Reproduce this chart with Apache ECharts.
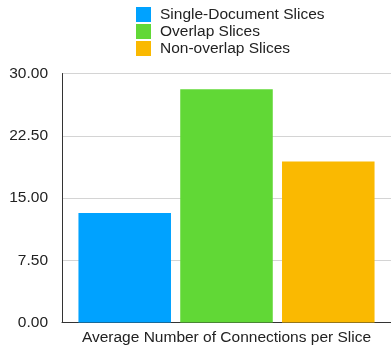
<!DOCTYPE html>
<html>
<head>
<meta charset="utf-8">
<script src="https://cdn.jsdelivr.net/npm/echarts@6/dist/echarts.min.js"></script>
<style>
  html, body { margin: 0; padding: 0; background: #fff; }
  #chart { width: 391px; height: 350px; }
</style>
</head>
<body>
<div id="chart"></div>
<script>
// data
var categories = ["Average Number of Connections per Slice"];
var seriesNames = ["Single-Document Slices", "Overlap Slices", "Non-overlap Slices"];
var singleDoc = [13.2];
var overlap = [28.1];
var nonOverlap = [19.4];
var colors = ["#00A2FF", "#61D836", "#FAB901"];

var chart = echarts.init(document.getElementById("chart"));
var font = "Liberation Sans, Arial, sans-serif";

var values = [singleDoc, overlap, nonOverlap];
var series = [];
for (var i = 0; i < seriesNames.length; i++) {
  series.push({
    name: seriesNames[i],
    type: "bar",
    data: values[i],
    barGap: "10%",
    barCategoryGap: "10%",
    itemStyle: { color: colors[i] }
  });
}

chart.setOption({
  animation: false,
  color: colors,
  textStyle: { fontFamily: font },
  legend: {
    orient: "vertical",
    left: 136,
    top: 6,
    padding: 0,
    itemWidth: 15,
    itemHeight: 15,
    itemGap: 0,
    icon: "rect",
    textStyle: { fontSize: 15.5, lineHeight: 17, color: "#222", fontFamily: font, padding: [0, 0, 0, 4] },
    data: seriesNames
  },
  grid: { left: 62, right: 0, top: 73.5, bottom: 27.5 },
  xAxis: {
    type: "category",
    data: categories,
    axisLine: { lineStyle: { color: "#333", width: 1 } },
    axisTick: { show: false },
    axisLabel: { fontSize: 15.5, color: "#222", margin: 7, fontFamily: font }
  },
  yAxis: {
    type: "value",
    min: 0,
    max: 30,
    interval: 7.5,
    axisLine: { show: true, lineStyle: { color: "#333", width: 1 } },
    axisTick: { show: false },
    splitLine: { lineStyle: { color: "#d4d4d4", width: 1 } },
    axisLabel: {
      fontSize: 15.5,
      color: "#222",
      margin: 14,
      fontFamily: font,
      formatter: function (v) { return v.toFixed(2); }
    }
  },
  series: series
});
</script>
</body>
</html>
